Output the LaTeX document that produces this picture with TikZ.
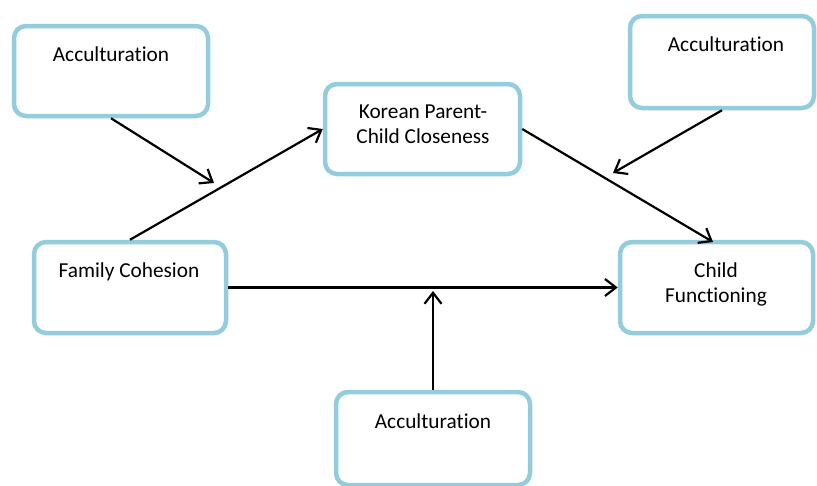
\documentclass[tikz,border=0pt]{standalone}
\usepackage{fontspec}
\setmainfont{Carlito}[Ligatures=NoCommon]
\usetikzlibrary{arrows.meta,calc}
\definecolor{boxblue}{HTML}{93CDDD}
\begin{document}
\begin{tikzpicture}[x=1pt,y=-1pt,
  box/.style={draw=boxblue,line width=4.5pt,rounded corners=12pt,fill=white,
    minimum width=#1,minimum height=90pt,inner sep=0pt},
  box/.default=194pt,
  txt/.style={font=\fontsize{21.3}{25}\selectfont,align=center,inner sep=0pt,anchor=base},
  conn/.style={line width=2.2pt,-{Straight Barb[length=11pt,width=17pt,line width=2.2pt]}}]
\useasboundingbox (0,0) rectangle (817,485);
% boxes
\node[box=194pt] (a1) at (111,71) {};
\node[box=184pt,minimum height=92pt] (a2) at (722,62) {};
\node[box=195pt] (kpc) at (422.5,129) {};
\node[box=192pt,minimum height=91pt] (fc) at (130,287.5) {};
\node[box=193pt,minimum height=91pt] (cf) at (716.5,287.5) {};
\node[box=194pt,minimum height=93pt] (a3) at (433,438.5) {};
% texts
\node[txt] (a1t) at (111,61) {Acculturation};
\node[txt] (a2t) at (726,51) {Acculturation};
\node[txt] (kpct) at (423,143) {Korean Parent-\\Child Closeness};
\node[txt] (fct) at (129,277) {Family Cohesion};
\node[txt] (cft) at (716,302) {Child\\Functioning};
\node[txt] (a3t) at (433,428) {Acculturation};
% free ends
\coordinate (m1) at (214,183);
\coordinate (m2) at (613,173);
\coordinate (m3) at (433,291);
\coordinate (cfin) at (713,242);
% connectors
\draw[conn] (fc.north) -- (kpc.west);
\draw[conn] (kpc.east) -- (cfin);
\draw[conn] (fc.east) -- (cf.west);
\draw[conn] (a1.south) -- (m1);
\draw[conn] (a2.south) -- (m2);
\draw[conn] (a3.north) -- (m3);
\end{tikzpicture}
\end{document}
